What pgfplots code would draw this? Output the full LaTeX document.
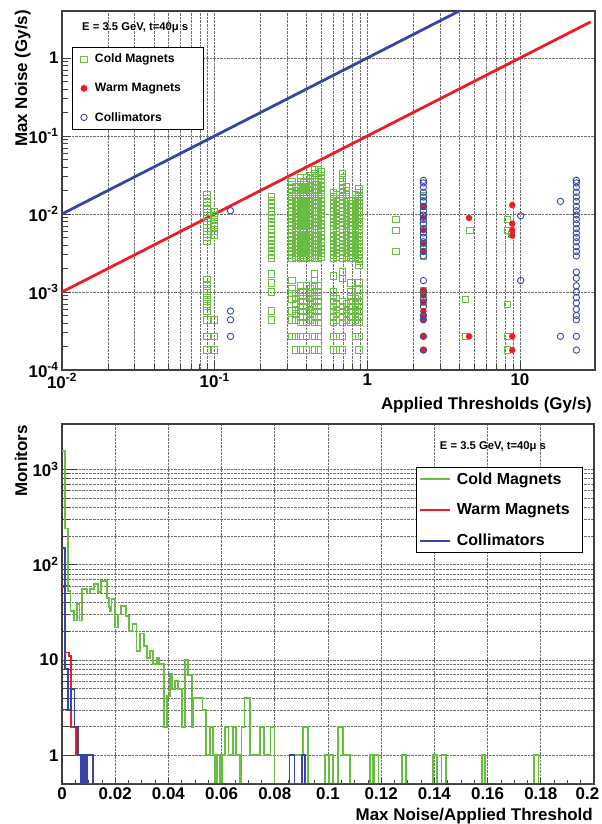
\documentclass[border=0pt]{standalone}
\usepackage{pgfplots}
\pgfplotsset{compat=1.18}
\usepackage{fontspec}
\setmainfont{Liberation Sans}
\definecolor{cgreen}{RGB}{105,190,65}
\definecolor{cred}{RGB}{235,30,35}
\definecolor{cblue}{RGB}{55,70,165}
\definecolor{gridc}{RGB}{110,110,110}
\newcommand{\tk}{\fontsize{17}{17}\selectfont\bfseries}
\pgfplotsset{mlegend/.style={legend image code/.code={\path[draw=none,fill=none] (0bp,-3bp) rectangle (18bp,3bp);\draw[##1] plot coordinates {(9bp,0bp)};}}}
\begin{document}
\begin{tikzpicture}
\path[use as bounding box] (0bp,0bp) rectangle (602bp,824bp);
% ================= TOP =================
\begin{axis}[
  at={(62bp,454bp)}, anchor=south west,
  scale only axis, width=533bp, height=359bp,
  xmode=log, ymode=log,
  xmin=0.01, xmax=31, ymin=1e-4, ymax=4,
  axis line style={black!75, line width=1.2bp},
  tick pos=left,
  major tick length=9bp, minor tick length=6bp,
  tick style={black!75, line width=0.8bp},
  xtick={0.01,0.1,1,10},
  xticklabels={10\textsuperscript{-2},10\textsuperscript{-1},1,10},
  ytick={1e-4,1e-3,1e-2,1e-1,1},
  yticklabels={10\textsuperscript{-4},10\textsuperscript{-3},10\textsuperscript{-2},10\textsuperscript{-1},1},
  tick label style={font=\tk},
  xmajorgrids, xminorgrids, ymajorgrids,
  major grid style={densely dotted, gridc, line width=0.7bp},
  minor grid style={densely dotted, gridc, line width=0.7bp},
  legend cell align=left,
  legend style={at={(rel axis cs:0.018,0.9005)}, anchor=north west, draw=black, line width=0.8bp,
    font=\fontsize{12.2}{14}\selectfont\bfseries, row sep=15bp, inner xsep=3bp, inner ysep=5bp,
    nodes={inner ysep=2bp}},
]
\addplot[cblue, line width=2.8bp, forget plot] coordinates {(0.01,0.01)(4.2,4.2)};
\addplot[cred, line width=2.8bp, forget plot] coordinates {(0.01,0.001)(29,2.9)};
% Cold magnets
\addplot[only marks, mlegend, mark=square, mark size=3.2bp, cgreen, line width=0.9bp] coordinates {
(0.089,0.0045)(0.089,0.005)(0.089,0.0055)(0.089,0.006)(0.089,0.0066)(0.089,0.0072)(0.089,0.008)(0.089,0.0088)(0.089,0.0096)(0.089,0.0105)(0.089,0.0115)(0.089,0.0127)(0.089,0.014)(0.089,0.0155)(0.089,0.0175)
(0.089,0.00066)(0.089,0.00075)(0.089,0.00085)(0.089,0.00097)(0.089,0.0011)(0.089,0.00125)(0.089,0.00145)
(0.089,0.00044)(0.089,0.00057)(0.089,0.00027)(0.089,0.00018)
(0.1,0.0054)(0.1,0.006)(0.1,0.0068)(0.1,0.0076)(0.1,0.0085)(0.1,0.0095)(0.1,0.0108)(0.1,0.00044)(0.1,0.00027)(0.1,0.00018)
(0.235,0.0027)(0.235,0.003)(0.235,0.0033)(0.235,0.0037)(0.235,0.0041)(0.235,0.0046)(0.235,0.0051)(0.235,0.0057)(0.235,0.0063)(0.235,0.007)(0.235,0.0078)(0.235,0.0087)(0.235,0.0097)(0.235,0.0108)(0.235,0.012)(0.235,0.0134)(0.235,0.015)(0.235,0.0168)
(0.235,0.001)(0.235,0.0013)(0.235,0.0017)(0.235,0.00044)(0.235,0.00057)
(0.32,0.0027)(0.32,0.003)(0.32,0.0033)(0.32,0.0037)(0.32,0.0041)(0.32,0.0046)(0.32,0.0051)(0.32,0.0057)(0.32,0.0063)(0.32,0.007)(0.32,0.0078)(0.32,0.0087)(0.32,0.0097)(0.32,0.0108)(0.32,0.012)(0.32,0.0134)(0.32,0.015)(0.32,0.0168)(0.32,0.0188)(0.32,0.021)(0.32,0.0235)(0.32,0.0262)
(0.32,0.0008)(0.32,0.00095)(0.32,0.0011)(0.32,0.0014)(0.32,0.00044)(0.32,0.00057)(0.32,0.00027)
(0.34,0.0028)(0.34,0.0031)(0.34,0.0035)(0.34,0.0039)(0.34,0.0043)(0.34,0.0048)(0.34,0.0054)(0.34,0.006)(0.34,0.0066)(0.34,0.0074)(0.34,0.0082)(0.34,0.0092)(0.34,0.0102)(0.34,0.0114)(0.34,0.0127)(0.34,0.0142)(0.34,0.0158)(0.34,0.0178)(0.34,0.02)(0.34,0.0222)
(0.34,0.00044)(0.34,0.00052)(0.34,0.0006)(0.34,0.0007)(0.34,0.00082)(0.34,0.00095)(0.34,0.00027)(0.34,0.00018)
(0.365,0.0027)(0.365,0.003)(0.365,0.0033)(0.365,0.0037)(0.365,0.0041)(0.365,0.0046)(0.365,0.0051)(0.365,0.0057)(0.365,0.0063)(0.365,0.007)(0.365,0.0078)(0.365,0.0087)(0.365,0.0097)(0.365,0.0108)(0.365,0.012)(0.365,0.0134)(0.365,0.015)(0.365,0.0168)(0.365,0.0188)(0.365,0.021)(0.365,0.0235)(0.365,0.0262)(0.365,0.029)
(0.365,0.00041)(0.365,0.00048)(0.365,0.00056)(0.365,0.00065)(0.365,0.00076)(0.365,0.00088)(0.365,0.001)(0.365,0.0012)(0.365,0.00027)(0.365,0.00018)
(0.385,0.0028)(0.385,0.0031)(0.385,0.0035)(0.385,0.0039)(0.385,0.0043)(0.385,0.0048)(0.385,0.0054)(0.385,0.006)(0.385,0.0066)(0.385,0.0074)(0.385,0.0082)(0.385,0.0092)(0.385,0.0102)(0.385,0.0114)(0.385,0.0127)(0.385,0.0142)(0.385,0.0158)(0.385,0.0178)(0.385,0.02)(0.385,0.0222)(0.385,0.025)
(0.40,0.0027)(0.40,0.003)(0.40,0.0033)(0.40,0.0037)(0.40,0.0041)(0.40,0.0046)(0.40,0.0051)(0.40,0.0057)(0.40,0.0063)(0.40,0.007)(0.40,0.0078)(0.40,0.0087)(0.40,0.0097)(0.40,0.0108)(0.40,0.012)(0.40,0.0134)(0.40,0.015)(0.40,0.0168)(0.40,0.0188)(0.40,0.021)(0.40,0.0235)(0.40,0.0262)(0.40,0.029)
(0.40,0.00041)(0.40,0.00048)(0.40,0.00056)(0.40,0.00065)(0.40,0.00076)(0.40,0.00088)(0.40,0.001)(0.40,0.0012)(0.40,0.00027)(0.40,0.00018)
(0.425,0.0028)(0.425,0.0031)(0.425,0.0035)(0.425,0.0039)(0.425,0.0043)(0.425,0.0048)(0.425,0.0054)(0.425,0.006)(0.425,0.0066)(0.425,0.0074)(0.425,0.0082)(0.425,0.0092)(0.425,0.0102)(0.425,0.0114)(0.425,0.0127)(0.425,0.0142)(0.425,0.0158)(0.425,0.0178)(0.425,0.02)(0.425,0.0222)(0.425,0.025)(0.425,0.028)(0.425,0.031)
(0.425,0.00044)(0.425,0.00052)(0.425,0.0006)(0.425,0.0007)(0.425,0.00082)(0.425,0.00095)(0.425,0.0011)
(0.45,0.0027)(0.45,0.003)(0.45,0.0033)(0.45,0.0037)(0.45,0.0041)(0.45,0.0046)(0.45,0.0051)(0.45,0.0057)(0.45,0.0063)(0.45,0.007)(0.45,0.0078)(0.45,0.0087)(0.45,0.0097)(0.45,0.0108)(0.45,0.012)(0.45,0.0134)(0.45,0.015)(0.45,0.0168)(0.45,0.0188)(0.45,0.021)(0.45,0.0235)(0.45,0.0262)(0.45,0.029)(0.45,0.033)(0.45,0.037)
(0.45,0.00041)(0.45,0.00048)(0.45,0.00056)(0.45,0.00065)(0.45,0.00076)(0.45,0.00088)(0.45,0.001)(0.45,0.0012)(0.45,0.0014)(0.45,0.0017)(0.45,0.00027)(0.45,0.00018)
(0.48,0.0027)(0.48,0.003)(0.48,0.0033)(0.48,0.0037)(0.48,0.0041)(0.48,0.0046)(0.48,0.0051)(0.48,0.0057)(0.48,0.0063)(0.48,0.007)(0.48,0.0078)(0.48,0.0087)(0.48,0.0097)(0.48,0.0108)(0.48,0.012)(0.48,0.0134)(0.48,0.015)(0.48,0.0168)(0.48,0.0188)(0.48,0.021)(0.48,0.0235)(0.48,0.0262)(0.48,0.029)(0.48,0.033)(0.48,0.037)
(0.48,0.00041)(0.48,0.00048)(0.48,0.00056)(0.48,0.00065)(0.48,0.00076)(0.48,0.00088)(0.48,0.001)(0.48,0.0012)(0.48,0.00027)(0.48,0.00018)
(0.50,0.0028)(0.50,0.0031)(0.50,0.0035)(0.50,0.0039)(0.50,0.0043)(0.50,0.0048)(0.50,0.0054)(0.50,0.006)(0.50,0.0066)(0.50,0.0074)(0.50,0.0082)(0.50,0.0092)(0.50,0.0102)(0.50,0.0114)(0.50,0.0127)(0.50,0.0142)(0.50,0.0158)(0.50,0.0178)(0.50,0.02)(0.50,0.0222)(0.50,0.025)(0.50,0.028)(0.50,0.031)(0.50,0.035)
(0.60,0.0027)(0.60,0.003)(0.60,0.0033)(0.60,0.0037)(0.60,0.0041)(0.60,0.0046)(0.60,0.0051)(0.60,0.0057)(0.60,0.0063)(0.60,0.007)(0.60,0.0078)(0.60,0.0087)(0.60,0.0097)(0.60,0.0108)(0.60,0.012)(0.60,0.0134)(0.60,0.015)(0.60,0.0168)(0.60,0.0188)
(0.60,0.0016)(0.60,0.00041)(0.60,0.00048)(0.60,0.00056)(0.60,0.00065)(0.60,0.00076)(0.60,0.00088)(0.60,0.001)(0.60,0.00027)(0.60,0.00018)
(0.63,0.0028)(0.63,0.0031)(0.63,0.0035)(0.63,0.0039)(0.63,0.0043)(0.63,0.0048)(0.63,0.0054)(0.63,0.006)(0.63,0.0066)(0.63,0.0074)(0.63,0.0082)(0.63,0.0092)(0.63,0.0102)(0.63,0.0114)(0.63,0.0127)(0.63,0.0142)(0.63,0.0158)(0.63,0.0178)
(0.63,0.00044)(0.63,0.00052)(0.63,0.0006)(0.63,0.0007)(0.63,0.00082)(0.63,0.00027)(0.63,0.00018)
(0.69,0.0027)(0.69,0.003)(0.69,0.0033)(0.69,0.0037)(0.69,0.0041)(0.69,0.0046)(0.69,0.0051)(0.69,0.0057)(0.69,0.0063)(0.69,0.007)(0.69,0.0078)(0.69,0.0087)(0.69,0.0097)(0.69,0.0108)(0.69,0.012)(0.69,0.0134)(0.69,0.015)(0.69,0.0168)(0.69,0.0188)(0.69,0.021)(0.69,0.0235)(0.69,0.0262)(0.69,0.029)(0.69,0.033)
(0.69,0.0015)(0.69,0.0018)(0.69,0.00041)(0.69,0.00048)(0.69,0.00056)(0.69,0.00065)(0.69,0.00076)(0.69,0.00027)(0.69,0.00018)
(0.73,0.0028)(0.73,0.0031)(0.73,0.0035)(0.73,0.0039)(0.73,0.0043)(0.73,0.0048)(0.73,0.0054)(0.73,0.006)(0.73,0.0066)(0.73,0.0074)(0.73,0.0082)(0.73,0.0092)(0.73,0.0102)(0.73,0.0114)(0.73,0.0127)(0.73,0.0142)(0.73,0.0158)(0.73,0.0178)(0.73,0.02)(0.73,0.0222)
(0.73,0.00044)(0.73,0.00052)(0.73,0.0006)(0.73,0.0007)
(0.78,0.0027)(0.78,0.003)(0.78,0.0033)(0.78,0.0037)(0.78,0.0041)(0.78,0.0046)(0.78,0.0051)(0.78,0.0057)(0.78,0.0063)(0.78,0.007)(0.78,0.0078)(0.78,0.0087)(0.78,0.0097)(0.78,0.0108)(0.78,0.012)(0.78,0.0134)(0.78,0.015)
(0.78,0.00041)(0.78,0.00048)(0.78,0.00056)(0.78,0.00065)(0.78,0.00076)(0.78,0.00088)(0.78,0.001)(0.78,0.0013)
(0.835,0.0028)(0.835,0.0031)(0.835,0.0035)(0.835,0.0039)(0.835,0.0043)(0.835,0.0048)(0.835,0.0054)(0.835,0.006)(0.835,0.0066)(0.835,0.0074)(0.835,0.0082)(0.835,0.0092)(0.835,0.0102)(0.835,0.0114)(0.835,0.0127)(0.835,0.0142)(0.835,0.0158)(0.835,0.0178)
(0.835,0.00044)(0.835,0.00052)(0.835,0.0006)(0.835,0.0007)(0.835,0.00082)(0.835,0.00027)
(0.88,0.0022)(0.88,0.0025)(0.88,0.0027)(0.88,0.003)(0.88,0.0033)(0.88,0.0037)(0.88,0.0041)(0.88,0.0046)(0.88,0.0051)(0.88,0.0057)(0.88,0.0063)(0.88,0.007)(0.88,0.0078)(0.88,0.0087)(0.88,0.0097)(0.88,0.0108)(0.88,0.012)(0.88,0.0134)(0.88,0.015)(0.88,0.0168)(0.88,0.0188)(0.88,0.021)
(0.88,0.0011)(0.88,0.0013)(0.88,0.00041)(0.88,0.00048)(0.88,0.00056)(0.88,0.00065)(0.88,0.00076)(0.88,0.00088)(0.88,0.00027)(0.88,0.00018)
(1.54,0.0085)(1.54,0.0062)(1.54,0.0033)
(2.33,0.0029)(2.33,0.0035)(2.33,0.0042)(2.33,0.005)(2.33,0.006)(2.33,0.0072)(2.33,0.0087)(2.33,0.0105)(2.33,0.0125)(2.33,0.015)(2.33,0.017)
(2.33,0.00105)(2.33,0.00085)(2.33,0.00074)
(4.4,0.0008)(4.4,0.00027)(4.7,0.0062)
(8.3,0.0085)(8.3,0.0062)(8.3,0.00069)(8.3,0.00027)(8.3,0.00018)(8.8,0.0055)
};
\addlegendentry{\makebox[103bp][l]{Cold Magnets}}
% Warm magnets
\addplot[only marks, mlegend, mark=*, mark size=3bp, cred, fill=cred] coordinates {
(2.33,0.0033)(2.33,0.0042)(2.33,0.0062)(2.33,0.009)(2.33,0.0125)(2.33,0.00105)(2.33,0.0009)(2.33,0.00074)(2.33,0.00057)(2.33,0.0005)(2.33,0.00044)(2.33,0.00027)(2.33,0.00018)
(4.64,0.0089)(4.64,0.00027)
(8.9,0.013)(8.9,0.0075)(8.9,0.0062)(8.9,0.0053)(8.9,0.00027)(8.9,0.00018)
};
\addlegendentry{\makebox[103bp][l]{Warm Magnets}}
% Collimators
\addplot[only marks, mlegend, mark=o, mark size=3.2bp, cblue, line width=0.9bp] coordinates {
(0.127,0.011)(0.127,0.00057)(0.127,0.00044)(0.127,0.00027)
(2.33,0.0029)(2.33,0.0033)(2.33,0.0038)(2.33,0.0044)(2.33,0.005)(2.33,0.0057)(2.33,0.0065)(2.33,0.0075)(2.33,0.0085)(2.33,0.0097)(2.33,0.011)(2.33,0.0125)(2.33,0.0145)(2.33,0.0165)(2.33,0.019)(2.33,0.022)(2.33,0.025)(2.33,0.027)
(2.33,0.0014)(2.33,0.001)(2.33,0.0008)(2.33,0.00065)(2.33,0.0005)(2.33,0.00044)(2.33,0.00027)(2.33,0.00018)
(10.1,0.0095)(10.1,0.0014)(18.4,0.0145)(18.4,0.00027)
(23.4,0.0029)(23.4,0.0033)(23.4,0.0038)(23.4,0.0044)(23.4,0.005)(23.4,0.0057)(23.4,0.0065)(23.4,0.0075)(23.4,0.0085)(23.4,0.0097)(23.4,0.011)(23.4,0.0125)(23.4,0.0145)(23.4,0.0165)(23.4,0.019)(23.4,0.022)(23.4,0.025)(23.4,0.027)
(23.4,0.0018)(23.4,0.0015)(23.4,0.0012)(23.4,0.001)(23.4,0.00085)(23.4,0.00072)(23.4,0.0006)(23.4,0.0005)(23.4,0.00044)(23.4,0.00027)(23.4,0.00018)
};
\addlegendentry{\makebox[103bp][l]{Collimators}}
\node[anchor=west, inner sep=0pt, font=\fontsize{11.3}{12}\selectfont\bfseries] at (rel axis cs:0.0375,0.9526) {E = 3.5 GeV, t=40μ s};
\end{axis}
% ================= BOTTOM =================
\begin{axis}[
  at={(62bp,40bp)}, anchor=south west,
  scale only axis, width=532bp, height=360bp,
  ymode=log,
  xmin=0, xmax=0.2, ymin=0.5, ymax=3000,
  axis line style={black!75, line width=1.2bp},
  tick pos=left,
  major tick length=15bp, minor tick length=8bp,
  tick style={black!75, line width=0.8bp},
  xtick style={/pgfplots/major tick length=6bp, /pgfplots/minor tick length=4bp},
  xtick={0,0.02,0.04,0.06,0.08,0.1,0.12,0.14,0.16,0.18,0.2},
  xticklabels={0,0.02,0.04,0.06,0.08,0.1,0.12,0.14,0.16,0.18,\hspace*{-13bp}0.2},
  minor x tick num=3,
  ytick={1,10,100,1000},
  yticklabels={1,10,10\textsuperscript{2},10\textsuperscript{3}},
  tick label style={font=\tk},
  xmajorgrids, ymajorgrids, yminorgrids,
  major grid style={densely dotted, gridc, line width=0.7bp},
  minor grid style={densely dotted, gridc, line width=0.7bp},
  legend cell align=left,
  legend image code/.code={\draw[#1] (0bp,0bp) -- (30bp,0bp);},
  legend style={at={(rel axis cs:0.665,0.881)}, anchor=north west, draw=black, line width=0.8bp,
    font=\fontsize{16}{18}\selectfont\bfseries, row sep=14bp, inner xsep=3bp, inner ysep=3.5bp,
    nodes={inner ysep=2bp}, /tikz/every odd column/.append style={column sep=4bp}},
]
\addplot[const plot, cgreen, line width=1.8bp] coordinates {
(0,1550)(0.0010,240)(0.0022,53)(0.0032,33)(0.0044,26)(0.0056,39)(0.0066,26)(0.0076,56)(0.0094,50)(0.0104,56)
(0.0120,63)(0.0134,52)(0.0148,68)(0.0168,45)(0.0176,36)(0.0180,33)(0.0186,44)(0.0198,22)(0.0210,30)(0.0222,37)
(0.0240,29)(0.0252,20)(0.0265,24)(0.0280,12.5)(0.0293,19)(0.0308,14)(0.0320,10.5)(0.0332,12.5)(0.0342,9)(0.0356,10.5)
(0.0366,9)(0.0383,2)(0.0394,4.2)(0.0406,7.2)(0.0414,5)(0.0425,6)(0.0437,5)(0.0450,2)(0.0462,10)(0.0475,7)
(0.0488,2)(0.0494,4)(0.0528,3)(0.0540,1)(0.0555,2)(0.0567,1)(0.0576,0.5)(0.0583,1)(0.0595,0.5)(0.0600,1)
(0.0614,2)(0.0626,1)(0.0643,2)(0.0655,1)(0.0668,0.5)(0.0675,2)(0.0686,4)(0.0706,1)(0.0744,2)(0.0759,1)
(0.0784,2)(0.0799,0.5)(0.0855,1)(0.0907,2)(0.0926,0.5)(0.0989,1)(0.1004,0.5)(0.1006,1)(0.1020,0.5)(0.1039,2)
(0.1055,1)(0.1083,0.5)(0.1158,1)(0.1170,0.5)(0.1175,1)(0.1190,0.5)(0.1277,1)(0.1292,0.5)(0.1396,1)(0.1411,0.5)
(0.1427,1)(0.1444,0.5)(0.1578,1)(0.1591,0.5)(0.1774,1)(0.1791,0.5)(0.2,0.5)
};
\addlegendentry{\makebox[120bp][l]{Cold Magnets}}
\addplot[const plot, cred, line width=1.8bp] coordinates {
(0,58)(0.0010,12)(0.0027,11)(0.0033,2)(0.0052,1)(0.0078,0.5)(0.2,0.5)
};
\addlegendentry{\makebox[120bp][l]{Warm Magnets}}
\addplot[const plot, cblue, line width=1.8bp] coordinates {
(0,150)(0.0010,8)(0.0022,3)(0.0035,5)(0.0047,2)(0.0060,1)(0.0072,0.5)(0.0080,1)(0.0087,0.5)(0.0094,1)
(0.0116,0.5)(0.0855,1)(0.0874,0.5)(0.0902,1)(0.0915,0.5)(0.2,0.5)
};
\addlegendentry{\makebox[120bp][l]{Collimators}}
\node[anchor=west, inner sep=0pt, font=\fontsize{11.3}{12}\selectfont\bfseries] at (rel axis cs:0.71,0.937) {E = 3.5 GeV, t=40μ s};
\end{axis}
% axis titles
\node[rotate=90, anchor=base east, inner sep=0pt, font=\tk] at (27bp,814bp) {Max Noise (Gy/s)};
\node[anchor=base east, inner sep=0pt, font=\tk] at (592bp,414bp) {Applied Thresholds (Gy/s)};
\node[rotate=90, anchor=base east, inner sep=0pt, font=\tk] at (27bp,399bp) {Monitors};
\node[anchor=base east, inner sep=0pt, font=\tk] at (593bp,4bp) {Max Noise/Applied Threshold};
\end{tikzpicture}
\end{document}
